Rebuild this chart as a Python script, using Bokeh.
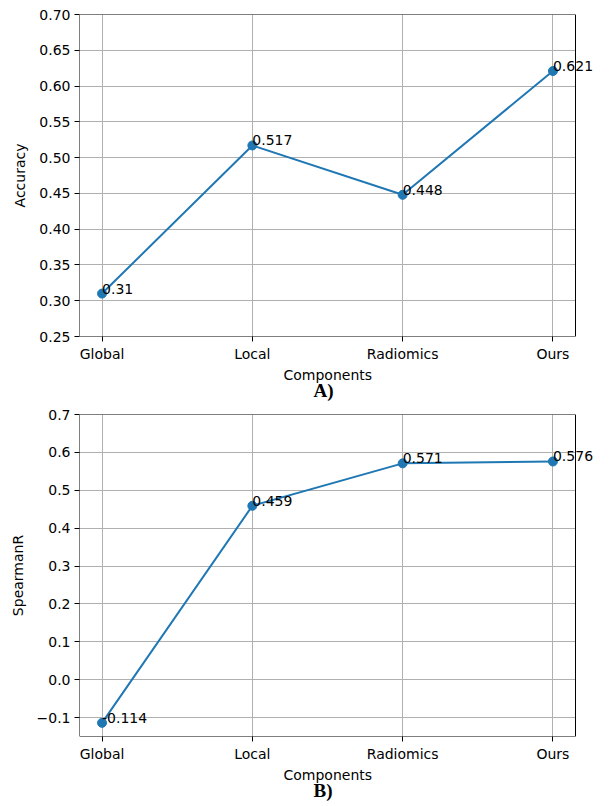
from bokeh.plotting import figure
from bokeh.models import (ColumnDataSource, Label, FixedTicker, Title,
                          CustomJSTickFormatter, Range1d, BoxAnnotation)
from bokeh.layouts import column
from bokeh.embed import file_html
from bokeh.resources import INLINE

categories = ["Global", "Local", "Radiomics", "Ours"]
accuracy = [0.31, 0.517, 0.448, 0.621]
spearman = [-0.114, 0.459, 0.571, 0.576]
acc_ticks = [0.25, 0.30, 0.35, 0.40, 0.45, 0.50, 0.55, 0.60, 0.65, 0.70]
spr_ticks = [-0.1, 0.0, 0.1, 0.2, 0.3, 0.4, 0.5, 0.6, 0.7]

BLUE = "#1f77b4"
FONT = "DejaVu Sans"

# layout (pixels)
FIG_W = 610
LEFT = 79
AXES_W = 496          # visible axes box width
PAD = 0.15            # x margin in category units
XLABEL_OFFSET = 204   # left edge of "Components" from axes left
TITLE_OFFSET = 234    # left edge of "A)"/"B)" from axes left


def make_panel(values, ylabel, yticks, ylo, yhi, decimals, title_text,
               height, border_top, border_bottom):
    xs = list(range(len(categories)))
    x0 = -PAD
    x1 = len(categories) - 1 + PAD
    # frame extends to the right page edge so value labels are not clipped
    frame_w = FIG_W - LEFT
    x_end = x0 + (x1 - x0) * frame_w / AXES_W
    src = ColumnDataSource(dict(x=xs, y=values))
    p = figure(width=FIG_W, height=height,
               x_range=Range1d(x0, x_end),
               y_range=Range1d(ylo, yhi),
               output_backend="svg", toolbar_location=None,
               min_border_left=LEFT, min_border_right=0,
               min_border_top=border_top, min_border_bottom=border_bottom)
    p.background_fill_color = "white"
    p.border_fill_color = "white"
    p.outline_line_color = None

    p.line("x", "y", source=src, line_color=BLUE, line_width=2)
    p.scatter("x", "y", source=src, size=9, color=BLUE)

    # hide grid beyond the axes box, then draw the axes box
    p.add_layout(BoxAnnotation(left=x1, fill_color="white", fill_alpha=1,
                               line_color=None))
    p.add_layout(BoxAnnotation(left=x0, right=x1, bottom=ylo, top=yhi,
                               fill_alpha=0, line_color="black",
                               line_width=1, line_alpha=1))

    for xv, yv in zip(xs, values):
        p.add_layout(Label(x=xv, y=yv, text=str(yv), x_offset=0, y_offset=5,
                           text_baseline="middle", text_align="left",
                           text_font=FONT, text_font_size="14px",
                           text_color="black"))

    p.xaxis.ticker = FixedTicker(ticks=xs)
    p.xaxis.major_label_overrides = {i: c for i, c in enumerate(categories)}
    p.yaxis.ticker = FixedTicker(ticks=yticks)
    p.yaxis.formatter = CustomJSTickFormatter(
        code="return tick.toFixed(%d).replace('-', '\\u2212');" % decimals)
    p.xgrid.ticker = FixedTicker(ticks=xs)
    p.ygrid.ticker = FixedTicker(ticks=yticks)
    for g in (p.xgrid, p.ygrid):
        g.grid_line_color = "#b0b0b0"
        g.grid_line_width = 1
        g.grid_line_alpha = 1

    for ax in (p.xaxis, p.yaxis):
        ax.axis_line_color = None
        ax.major_tick_line_color = "black"
        ax.minor_tick_line_color = None
        ax.major_tick_out = 5
        ax.major_tick_in = 0
        ax.major_label_text_font = FONT
        ax.major_label_text_font_size = "14px"
        ax.major_label_text_color = "black"
        ax.axis_label_text_font = FONT
        ax.axis_label_text_font_size = "14px"
        ax.axis_label_text_font_style = "normal"
        ax.axis_label_text_color = "black"
        ax.major_label_standoff = 4
    p.yaxis.axis_label = ylabel
    p.yaxis.axis_label_standoff = 8

    xl = Title(text="Components", align="left", text_font=FONT,
               text_font_size="14px", text_font_style="normal",
               text_color="black", standoff=0, offset=XLABEL_OFFSET)
    p.add_layout(xl, "below")
    t = Title(text=title_text, align="left", text_font="Liberation Serif",
              text_font_size="19px", text_font_style="bold",
              text_color="black", standoff=-10, offset=TITLE_OFFSET)
    p.add_layout(t, "below")
    return p


p1 = make_panel(accuracy, "Accuracy", acc_ticks, 0.25, 0.70, 2, "A)",
                406, 14, 70)
p2 = make_panel(spearman, "SpearmanR", spr_ticks, -0.15, 0.70, 1, "B)",
                400, 8, 70)

layout = column(p1, p2, spacing=0)
open("out.html", "w").write(file_html(layout, INLINE))
